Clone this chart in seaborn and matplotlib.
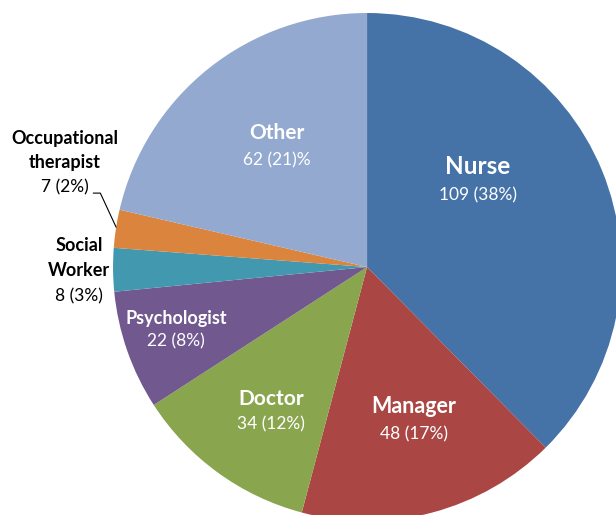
import matplotlib
matplotlib.use('Agg')
import matplotlib.pyplot as plt
import seaborn as sns

# data
roles = ["Nurse", "Manager", "Doctor", "Psychologist", "Social\nWorker", "Occupational\ntherapist", "Other"]
counts = [109, 48, 34, 22, 8, 7, 62]
value_labels = ["109 (38%)", "48 (17%)", "34 (12%)", "22 (8%)", "8 (3%)", "7 (2%)", "62 (21)%"]
colors = ["#4572A7", "#AA4643", "#89A54E", "#71588F", "#4198AF", "#DB843D", "#93A9CF"]

sns.set_theme(style="white")
plt.rcParams['font.family'] = ['Lato', 'DejaVu Sans']

fig = plt.figure(figsize=(6.16, 5.15), dpi=100)
ax = fig.add_axes([0, 0, 1, 1])
ax.pie(counts, colors=colors, startangle=90, counterclock=False,
       radius=1, wedgeprops={'linewidth': 0})
ax.set_xlim(-1.445, 0.980)
ax.set_ylim(-0.976, 1.051)
ax.set_aspect('equal')
ax.axis('off')

# label positions: x, then y of each name line, then y of value line (pie units)
pos = [(0.437, [0.394], 0.283),
       (0.185, [-0.551], -0.657),
       (-0.378, [-0.520], -0.618),
       (-0.752, [-0.201], -0.291),
       (-1.135, [0.083, -0.012], -0.114),
       (-1.19, [0.504, 0.413], 0.315),
       (-0.354, [0.528], 0.421)]
sizes = [17.5, 15.5, 15, 13, 13, 13, 15]
for i, (x, yn, yv) in enumerate(pos):
    inside = i not in (4, 5)
    col = 'white' if inside else 'black'
    for line, y in zip(roles[i].split("\n"), yn):
        ax.text(x, y, line, ha='center', va='center', color=col,
                fontsize=sizes[i], fontweight='bold')
    ax.text(x, yv, value_labels[i], ha='center', va='center', color=col,
            fontsize=12.5)

# leader line for occupational therapist
ax.plot([-1.078, -1.050, -0.988], [0.291, 0.291, 0.157], color='black', lw=0.8)

fig.savefig("out.png", dpi=100)
